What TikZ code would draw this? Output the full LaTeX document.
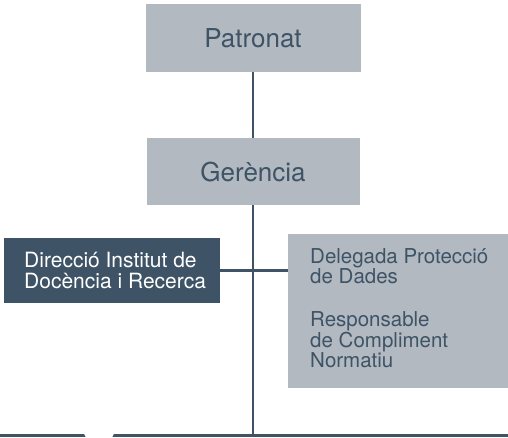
\documentclass[tikz,border=0pt]{standalone}
\usepackage{fontspec}
\setmainfont{TeX Gyre Heros}
\definecolor{slate}{HTML}{3E5366}
\definecolor{boxgrey}{HTML}{B2B9C0}
\tikzset{
  greybox/.style={fill=boxgrey, draw=none, inner sep=0pt},
  darkbox/.style={fill=slate, draw=none, inner sep=0pt},
  toptext/.style={font=\fontsize{26}{28}\selectfont, text=slate, text height=19pt, text depth=0pt},
  boxtext/.style={anchor=base west, align=left, inner sep=0pt},
  link/.style={draw=slate, line width=2.5pt},
}
\begin{document}
\begin{tikzpicture}[x=1pt,y=-1pt]
\useasboundingbox (0,0) rectangle (508,437);

% Boxes
\node[greybox, toptext, minimum width=215pt, minimum height=68pt] (patronat) at (253,38) {Patronat};
\node[greybox, toptext, minimum width=213pt, minimum height=67pt] (gerencia) at (253,171.5) {Gerència};
\node[darkbox, minimum width=216pt, minimum height=65pt] (direccio) at (112,270.5) {};
\node[greybox, minimum width=220pt, minimum height=154pt] (dades) at (398,311) {};

% Texts of the side boxes (anchored at the last baseline)
\node[boxtext, text=white, font=\fontsize{21}{21.5}\selectfont] (direcciotext) at (24,288.5)
  {Direcció Institut de\\Docència i Recerca};
\node[boxtext, text=slate, font=\fontsize{20.5}{19.5}\selectfont] (dadestext) at (310,367)
  {Delegada Protecció\\de Dades\\[24pt]Responsable\\de Compliment\\Normatiu};

% Base line
\coordinate (baseleft) at (0,435.5);
\coordinate (baseright) at (508,435.5);
\coordinate (base) at (253,435.5);
\draw[link, line width=3pt] (baseleft) -- (baseright);
\fill[white] (84,433.5) -- (114,433.5) -- (112,437.5) -- (86,437.5) -- cycle;

% Connectors
\draw[link] (patronat) -- (gerencia);
\draw[link] (gerencia) -- (base);
\draw[link] (direccio.east) -- (direccio.east -| dades.west);
\end{tikzpicture}
\end{document}
